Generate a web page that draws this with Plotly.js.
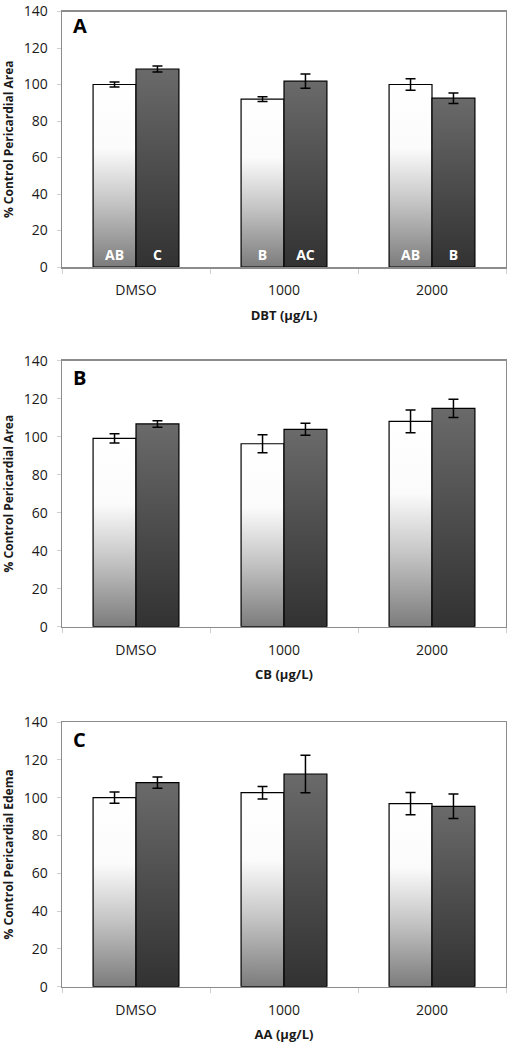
<!DOCTYPE html>
<html>
<head>
<meta charset="utf-8">
<script src="https://cdn.plot.ly/plotly-3.0.1.min.js"></script>
<style>
  html, body { margin: 0; padding: 0; background: #fff; }
  #chart { width: 507px; height: 1048px; }
</style>
</head>
<body>
<div id="chart"></div>
<script>
// ---- Data ----
const categories = ['DMSO', '1000', '2000'];

// Panel A: DBT
const aCtrl = [100, 92.0, 100];
const aCtrlErr = [1.4, 1.25, 3.1];
const aTrt = [108.5, 101.8, 92.5];
const aTrtErr = [1.6, 3.9, 2.9];
const aCtrlLetters = ['AB', 'B', 'AB'];
const aTrtLetters = ['C', 'AC', 'B'];

// Panel B: CB
const bCtrl = [99.1, 96.3, 108.1];
const bCtrlErr = [2.4, 4.7, 6.0];
const bTrt = [106.7, 103.9, 114.9];
const bTrtErr = [1.7, 3.2, 4.8];

// Panel C: AA
const cCtrl = [100, 102.6, 96.8];
const cCtrlErr = [3.0, 3.3, 5.9];
const cTrt = [107.9, 112.5, 95.4];
const cTrtErr = [3.0, 9.9, 6.5];

const panelLetters = ['A', 'B', 'C'];
const xTitles = ['DBT (µg/L)', 'CB (µg/L)', 'AA (µg/L)'];
const yTitles = ['% Control Pericardial Area', '% Control Pericardial Area', '% Control Pericardial Edema'];

// ---- Styling ----
const FONT = 'Open Sans, Lato, sans-serif';
const CTRL_COLOR = 'rgb(254,254,254)';
const TRT_COLOR = 'rgb(90,90,90)';

function barTrace(y, err, xa, ya, color, letters) {
  const t = {
    type: 'bar', x: categories, y: y, xaxis: xa, yaxis: ya,
    marker: { color: color, line: { color: '#000', width: 1.2 } },
    error_y: { type: 'data', array: err, visible: true, color: '#000', thickness: 1.5, width: 5 },
    showlegend: false, hoverinfo: 'skip'
  };
  if (letters) {
    t.text = letters.map(s => '<b>' + s + '</b>');
    t.textposition = 'inside';
    t.insidetextanchor = 'start';
    t.textangle = 0;
    t.constraintext = 'none';
    t.textfont = { color: '#ffffff', size: 14, family: FONT };
  }
  return t;
}

const data = [
  barTrace(aCtrl, aCtrlErr, 'x', 'y', CTRL_COLOR, aCtrlLetters),
  barTrace(aTrt, aTrtErr, 'x', 'y', TRT_COLOR, aTrtLetters),
  barTrace(bCtrl, bCtrlErr, 'x2', 'y2', CTRL_COLOR),
  barTrace(bTrt, bTrtErr, 'x2', 'y2', TRT_COLOR),
  barTrace(cCtrl, cCtrlErr, 'x3', 'y3', CTRL_COLOR),
  barTrace(cTrt, cTrtErr, 'x3', 'y3', TRT_COLOR)
];

const H = 1048;
const frac = px => 1 - px / H;
const yDomains = [
  [frac(267), frac(11.5)],
  [frac(626.7), frac(360.7)],
  [frac(986.7), frac(722)]
];

function xAxis(i) {
  return {
    domain: [0, 1], anchor: i === 0 ? 'y' : 'y' + (i + 1),
    type: 'category', showgrid: false, zeroline: false,
    showline: true, linecolor: '#8c8c8c', linewidth: 1.5, mirror: true,
    ticks: 'outside', tickson: 'boundaries', ticklen: 5, tickcolor: '#d0d0d0', tickwidth: 1,
    ticklabelstandoff: 10,
    tickfont: { family: FONT, size: 14, color: '#1a1a1a' },
    title: { text: '<b>' + xTitles[i] + '</b>', font: { family: FONT, size: 13, color: '#1a1a1a' }, standoff: 12 },
    fixedrange: true
  };
}
function yAxis(i) {
  return {
    domain: yDomains[i], anchor: i === 0 ? 'x' : 'x' + (i + 1),
    range: [0, 140], dtick: 20, tick0: 0,
    showgrid: false, zeroline: false,
    showline: true, linecolor: '#8c8c8c', linewidth: 1.5, mirror: true,
    ticks: 'outside', ticklen: 4, tickcolor: '#d0d0d0', tickwidth: 1,
    ticklabelstandoff: 6, ticklabeloverflow: 'allow',
    tickfont: { family: FONT, size: 14, color: '#1a1a1a' },
    title: { text: '<b>' + yTitles[i] + '</b>', font: { family: FONT, size: 12, color: '#1a1a1a' }, standoff: 8 },
    fixedrange: true
  };
}

const annotations = panelLetters.map((L, i) => ({
  text: '<b>' + L + '</b>',
  xref: (i === 0 ? 'x' : 'x' + (i + 1)) + ' domain',
  yref: (i === 0 ? 'y' : 'y' + (i + 1)) + ' domain',
  x: 0.04, y: i === 0 ? 0.945 : 0.935, xanchor: 'center', yanchor: 'middle',
  showarrow: false,
  font: { family: FONT, size: 20, color: '#000' }
}));

const layout = {
  width: 507, height: 1048,
  margin: { l: 62, r: 1, t: 0, b: 0 },
  paper_bgcolor: '#ffffff', plot_bgcolor: '#ffffff',
  barmode: 'group', bargap: 0.42, bargroupgap: 0,
  showlegend: false,
  xaxis: xAxis(0), xaxis2: xAxis(1), xaxis3: xAxis(2),
  yaxis: yAxis(0), yaxis2: yAxis(1), yaxis3: yAxis(2),
  annotations: annotations
};

const gd = document.getElementById('chart');
Plotly.newPlot(gd, data, layout, { staticPlot: true, displayModeBar: false }).then(() => {
  const ns = 'http://www.w3.org/2000/svg';
  const svg = gd.querySelector('svg.main-svg');
  let defs = svg.querySelector('defs');
  if (!defs) { defs = document.createElementNS(ns, 'defs'); svg.insertBefore(defs, svg.firstChild); }
  function grad(id, stops) {
    const g = document.createElementNS(ns, 'linearGradient');
    g.setAttribute('id', id);
    g.setAttribute('x1', '0'); g.setAttribute('y1', '0');
    g.setAttribute('x2', '0'); g.setAttribute('y2', '1');
    stops.forEach(([o, c]) => {
      const s = document.createElementNS(ns, 'stop');
      s.setAttribute('offset', o);
      s.setAttribute('stop-color', c);
      g.appendChild(s);
    });
    defs.appendChild(g);
  }
  grad('gradCtrl', [['0', '#ffffff'], ['0.35', '#fbfbfb'], ['0.65', '#c4c4c4'], ['1', '#7c7c7c']]);
  grad('gradTrt', [['0', '#6a6a6a'], ['0.5', '#4d4d4d'], ['1', '#323232']]);
  gd.querySelectorAll('.trace.bars').forEach((tr, i) => {
    let idx = i;
    try { idx = tr.__data__[0].trace.index; } catch (e) {}
    const id = (idx % 2 === 0) ? 'gradCtrl' : 'gradTrt';
    tr.querySelectorAll('.point path').forEach(p => { p.style.fill = 'url(#' + id + ')'; });
  });
});
</script>
</body>
</html>
